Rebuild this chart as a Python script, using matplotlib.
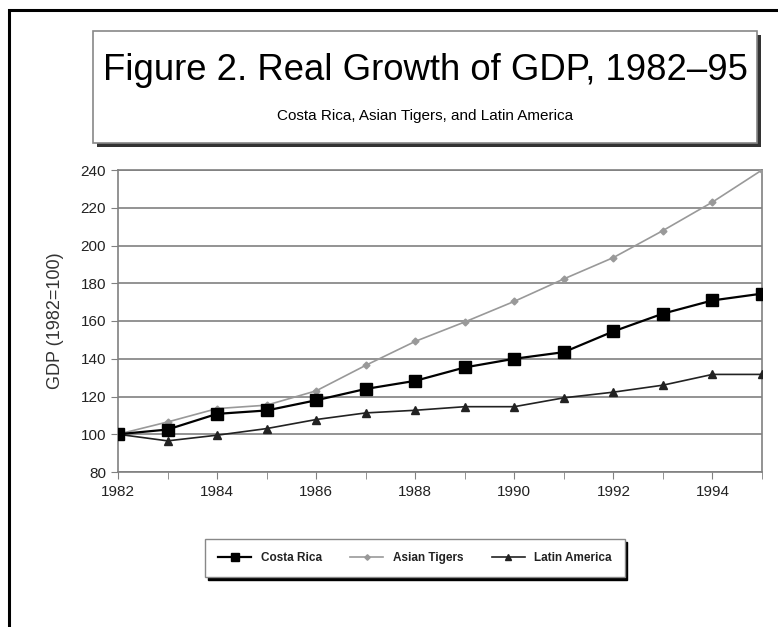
import matplotlib
matplotlib.use("Agg")
import matplotlib.pyplot as plt
from matplotlib.patches import Rectangle

plt.rcParams['font.family'] = ['Liberation Sans', 'DejaVu Sans']

years = [1982, 1983, 1984, 1985, 1986, 1987, 1988, 1989, 1990, 1991, 1992, 1993, 1994, 1995]
costa_rica = [100, 102.5, 110.8, 112.6, 118, 124, 128.3, 135.4, 140, 143.5, 154.5, 163.9, 170.9, 174.5]
asian_tigers = [100, 106.5, 113.6, 115.4, 123, 136.5, 149.2, 159.5, 170.4, 182.3, 193.6, 207.9, 223, 240]
latin_america = [100, 96.5, 99.5, 103, 107.8, 111.3, 112.7, 114.6, 114.6, 119.3, 122.3, 126, 131.7, 131.7]
y_ticks = [80, 100, 120, 140, 160, 180, 200, 220, 240]
x_labels = [1982, 1984, 1986, 1988, 1990, 1992, 1994]

W, H = 778, 627
fig = plt.figure(figsize=(W / 100, H / 100), dpi=100)

# outer frame (left and top edges visible, rest runs off the page)
fig.add_artist(Rectangle((9 / W, -0.1), 1.2, 1 - 10 / H + 0.1, transform=fig.transFigure,
                         fill=False, edgecolor='black', linewidth=2.2))

# title box with shadow
bx0, by0, bx1, by1 = 93, 31, 757, 143
fig.add_artist(Rectangle(((bx0 + 4) / W, 1 - (by1 + 4) / H), (bx1 - bx0) / W, (by1 - by0) / H,
                         transform=fig.transFigure, facecolor='#333333', edgecolor='none'))
fig.add_artist(Rectangle((bx0 / W, 1 - by1 / H), (bx1 - bx0) / W, (by1 - by0) / H,
                         transform=fig.transFigure, facecolor='white', edgecolor='#888888', linewidth=1.2))
fig.text((bx0 + bx1) / 2 / W, 1 - 70 / H, 'Figure 2. Real Growth of GDP, 1982\u201395',
         ha='center', va='center', fontsize=26.3)
fig.text((bx0 + bx1) / 2 / W, 1 - 116 / H, 'Costa Rica, Asian Tigers, and Latin America',
         ha='center', va='center', fontsize=11)

ax = fig.add_axes([118 / W, (H - 472) / H, (762 - 118) / W, (472 - 170) / H])
ax.plot(years, costa_rica, color='black', marker='s', markersize=8, linewidth=1.6,
        label='Costa Rica', zorder=4)
ax.plot(years, asian_tigers, color='#999999', marker='D', markersize=3.5, linewidth=1.2,
        label='Asian Tigers', zorder=3)
ax.plot(years, latin_america, color='#222222', marker='^', markersize=5.5, linewidth=1.2,
        label='Latin America', zorder=3)

ax.set_xlim(1982, 1995)
ax.set_ylim(80, 240)
ax.set_yticks(y_ticks)
ax.set_xticks(x_labels)
ax.set_xticks(years, minor=True)
ax.grid(axis='y', color='#808080', linewidth=1.2)
ax.set_axisbelow(True)
for s in ax.spines.values():
    s.set_color('#808080')
    s.set_linewidth(1.2)
ax.tick_params(axis='both', which='both', direction='out', length=5, color='#808080',
               labelsize=11, labelcolor='#222222')
ax.tick_params(axis='x', pad=4)
ax.set_ylabel('GDP (1982=100)', fontsize=13, color='#333333', labelpad=12)

leg = fig.legend(loc='center', bbox_to_anchor=(415 / W, 1 - 558 / H), ncol=3,
                 frameon=True, fancybox=False, edgecolor='#888888',
                 shadow={'color': 'black', 'alpha': 1}, handlelength=2.8, columnspacing=2.4,
                 borderpad=1.1, markerscale=0.8, prop={'weight': 'bold', 'size': 8.5})
leg.get_frame().set_linewidth(1.0)
for t in leg.get_texts():
    t.set_color('#222222')

fig.savefig('out.png', dpi=100)
